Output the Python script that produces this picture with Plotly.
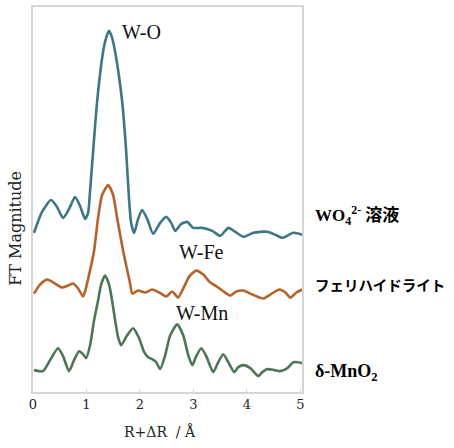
import plotly.graph_objects as go

# Positions along R+ΔR (Å) and FT magnitude (arbitrary units)
# Blue: WO4^2- solution
wo4_px = [34, 42, 51, 57, 63, 69, 75, 80, 85, 88, 90, 93, 97, 103, 106, 109, 112, 115, 122, 126, 129, 131, 134, 138, 142, 147, 153, 160, 166, 171, 175, 181, 187, 193, 202, 212, 220, 228, 235, 243, 253, 260, 267, 275, 282, 293, 302]
wo4_py = [232, 211, 199, 206, 217, 208, 196, 205, 218, 212, 190, 150, 100, 50, 36, 29, 36, 50, 100, 150, 200, 222, 232, 218, 209, 218, 233, 222, 216, 222, 230, 223, 221, 227, 227, 230, 235, 227, 231, 236, 232, 231, 231, 234, 237, 232, 234]

# Orange: ferrihydrite
fh_px = [34, 40, 47, 55, 62, 68, 73, 78, 83, 85, 87, 94, 98, 102, 108, 113, 117, 123, 130, 132, 138, 145, 152, 159, 166, 172, 178, 183, 189, 196, 203, 210, 215, 222, 230, 236, 243, 252, 263, 270, 279, 285, 290, 296, 302]
fh_py = [293, 284, 279, 283, 287, 285, 283, 288, 296, 291, 283, 250, 217, 194, 184, 194, 217, 250, 283, 293, 290, 292, 289, 292, 296, 291, 297, 288, 276, 270, 274, 282, 285, 290, 295, 291, 290, 294, 298, 294, 289, 292, 297, 292, 289]

# Green: δ-MnO2
mn_px = [34, 43, 50, 58, 63, 69, 74, 79, 83, 86, 90, 94, 98, 101, 105, 109, 112, 115, 118, 121, 127, 133, 139, 144, 148, 152, 156, 160, 165, 170, 177, 183, 188, 192, 196, 201, 206, 213, 218, 223, 228, 234, 238, 243, 250, 258, 262, 267, 274, 280, 287, 293, 302]
mn_py = [370, 371, 360, 348, 356, 371, 360, 351, 354, 358, 345, 320, 300, 284, 275, 284, 300, 320, 337, 345, 335, 328, 338, 352, 357, 359, 362, 369, 355, 335, 324, 335, 355, 365, 356, 348, 356, 372, 362, 354, 362, 372, 367, 365, 368, 376, 372, 369, 370, 371, 368, 362, 363]

# convert to R (Å) and magnitude units
X0, SX = 33.0, 53.4
Y0, SY = 392.0, 10.0
def to_r(px):
    return [round((p - X0) / SX, 3) for p in px]
def to_mag(py):
    return [round((Y0 - p) / SY, 2) for p in py]

series = [
    ("WO4 2- solution", to_r(wo4_px), to_mag(wo4_py), "#3d7785"),
    ("ferrihydrite", to_r(fh_px), to_mag(fh_py), "#b5622b"),
    ("d-MnO2", to_r(mn_px), to_mag(mn_py), "#4d7656"),
]

x_ticks = [0, 1, 2, 3, 4, 5]

fig = go.Figure()
for name, xs, ys, col in series:
    fig.add_trace(go.Scatter(x=xs, y=ys, mode="lines", name=name,
                             line=dict(color=col, width=2.6, shape="spline", smoothing=0.6),
                             hoverinfo="skip"))

serif = "Liberation Serif, Times New Roman, serif"
wide_serif = "DejaVu Serif, serif"
mixed = "Liberation Serif, Noto Sans CJK JP, serif"
cjk = "Noto Sans CJK JP, sans-serif"

fig.update_layout(
    width=454, height=448,
    margin=dict(l=33, r=152, t=5, b=56),
    paper_bgcolor="white", plot_bgcolor="white",
    showlegend=False,
    xaxis=dict(range=[0, 5.03], tickvals=x_ticks, ticktext=[str(t) for t in x_ticks],
               showgrid=False, zeroline=False, showline=True, mirror=True,
               linecolor="#d6d6d6", linewidth=1.5, ticks="inside", ticklen=3,
               tickcolor="#d6d6d6", tickfont=dict(family=wide_serif, size=13, color="#222")),
    yaxis=dict(range=[0, 38.7], showticklabels=False, showgrid=False, zeroline=False,
               showline=True, mirror=True, linecolor="#d6d6d6", linewidth=1.5, ticks=""),
)

ann = [
    dict(x=(120 - X0) / SX, y=(Y0 - 30) / SY, text="W-O", xanchor="left", font=dict(family=serif, size=20, color="#111")),
    dict(x=(177 - X0) / SX, y=(Y0 - 251) / SY, text="W-Fe", xanchor="left", font=dict(family=serif, size=20, color="#111")),
    dict(x=(174 - X0) / SX, y=(Y0 - 313) / SY, text="W-Mn", xanchor="left", font=dict(family=serif, size=20, color="#111")),
]
for a in ann:
    fig.add_annotation(xref="x", yref="y", yanchor="middle", showarrow=False, **a)

right = [
    (215, "<b>WO<sub>4</sub><sup>2-</sup> 溶液</b>", mixed, 17),
    (284, "<b>フェリハイドライト</b>", cjk, 14.5),
    (372, "<b>δ-MnO<sub>2</sub></b>", serif, 18),
]
for py, txt, fam, sz in right:
    fig.add_annotation(xref="paper", yref="paper", x=(313 - 33) / 269, y=(392 - py) / 387,
                       xanchor="left", yanchor="middle", showarrow=False, text=txt,
                       font=dict(family=fam, size=sz, color="#000"))

fig.add_annotation(xref="paper", yref="paper", x=(16 - 33) / 269, y=(392 - 228) / 387,
                   text="FT Magnitude", textangle=-90, showarrow=False,
                   xanchor="center", yanchor="middle", font=dict(family=wide_serif, size=16, color="#222"))
fig.add_annotation(xref="paper", yref="paper", x=(160 - 33) / 269, y=(392 - 432) / 387,
                   text="R+ΔR  / Å", showarrow=False,
                   xanchor="center", yanchor="middle", font=dict(family=wide_serif, size=14, color="#222"))

fig.write_html("out.html", post_script="document.body.style.margin='0';",
               config={"displayModeBar": False})
